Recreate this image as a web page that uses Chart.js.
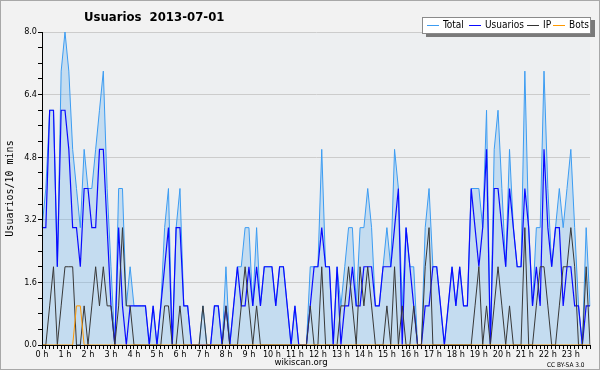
<!DOCTYPE html>
<html>
<head>
<meta charset="utf-8">
<script src="https://cdn.jsdelivr.net/npm/chart.js@4.4.1/dist/chart.umd.min.js"></script>
<style>
  html, body { margin:0; padding:0; background:#f2f2f2; }
  #wrap { position:relative; width:600px; height:370px; box-sizing:border-box; border:1px solid #a8a8a8; background:#f2f2f2; overflow:hidden; font-family:'DejaVu Sans Condensed','Liberation Sans',sans-serif; color:#000; }
  #c { position:absolute; left:-1px; top:-1px; }
  .txt { position:absolute; white-space:pre; line-height:1; }
  #title { left:83px; top:9px; font-size:13px; font-weight:bold; }
  #legend { position:absolute; left:421px; top:16px; width:167px; height:15px; background:#fff; border:1px solid #8a8a8a; box-shadow:4px 3px 0 #7a7a7a; }
  .lg-line { position:absolute; top:7px; width:12px; height:1px; }
  .lg-txt { position:absolute; top:2px; font-size:10px; white-space:pre; line-height:1; }
  #site { left:0; width:600px; text-align:center; top:356px; font-size:9.5px; }
  #cc { left:546px; top:361px; font-size:6.5px; }
</style>
</head>
<body>
<div id="wrap">
  <canvas id="c" width="600" height="370"></canvas>
  <div class="txt" id="title">Usuarios  2013-07-01</div>
  <div id="legend">
    <div class="lg-line" style="left:4px;background:#3c9cf2"></div><div class="lg-txt" style="left:20px">Total</div>
    <div class="lg-line" style="left:46px;background:#0a0aff"></div><div class="lg-txt" style="left:62px">Usuarios</div>
    <div class="lg-line" style="left:104px;background:#333"></div><div class="lg-txt" style="left:120px">IP</div>
    <div class="lg-line" style="left:130px;background:#ff9900"></div><div class="lg-txt" style="left:146px">Bots</div>
  </div>
  <div class="txt" id="site">wikiscan.org</div>
  <div class="txt" id="cc">CC BY-SA 3.0</div>
</div>
<script>
// tick labels (one per hour)
const hourLabels = ['0 h','1 h','2 h','3 h','4 h','5 h','6 h','7 h','8 h','9 h','10 h','11 h',
  '12 h','13 h','14 h','15 h','16 h','17 h','18 h','19 h','20 h','21 h','22 h','23 h'];

// series: users per 10 minutes (144 slots, 00:00 .. 23:50)
const totalValues = [
  3,4,6,6,2,7,8,7,5,4,3,5,4,4,5,6,7,4,
  2,0,4,4,1,2,1,1,1,1,0,1,0,1,3,4,0,3,
  4,1,1,0,0,0,1,0,0,1,1,0,2,0,1,2,2,3,
  3,1,3,1,2,2,2,1,2,2,1,0,1,0,0,0,2,2,
  2,5,2,2,0,2,1,2,3,3,1,3,3,4,3,1,1,
  2,3,2,5,4,1,3,2,2,0,0,3,4,2,2,1,0,1,
  2,1,2,1,1,4,4,4,3,6,0,5,6,4,2,5,3,2,
  2,7,3,1,3,3,7,4,2,3,4,3,4,5,3,1,0,3,1
];
const usuariosValues = [
  3,3,6,6,2,6,6,5,3,3,2,4,4,3,3,5,5,3,
  1,0,3,1,0,1,1,1,1,1,0,1,0,1,2,3,0,3,
  3,1,1,0,0,0,0,0,0,1,1,0,1,0,1,2,1,1,
  2,1,2,1,2,2,2,1,2,2,1,0,1,0,0,0,1,2,
  2,3,2,2,0,2,0,1,1,2,1,1,2,2,2,1,1,
  2,2,2,3,4,0,3,2,1,0,0,1,1,2,2,1,0,1,
  2,1,2,1,1,4,3,2,3,5,0,4,4,3,2,4,3,2,
  2,4,3,1,2,1,5,3,2,3,3,1,2,2,1,1,0,1,1
];
const ipValues = [
  0,0,1,2,0,1,2,2,2,0,0,1,0,1,2,1,2,1,
  1,0,1,3,1,1,0,0,0,0,0,0,0,0,1,1,0,0,
  1,0,0,0,0,0,1,0,0,0,0,0,1,0,0,0,1,2,
  1,0,1,0,0,0,0,0,0,0,0,0,0,0,0,0,1,0,
  0,2,0,0,0,0,1,1,2,1,0,2,1,2,1,0,0,
  0,1,0,2,0,1,0,0,1,0,0,2,3,0,0,0,0,0,
  0,0,0,0,0,0,1,2,0,1,0,1,2,1,0,1,0,0,
  0,3,0,0,1,2,2,1,0,0,1,2,2,3,2,0,0,2,0
];
const botsValues = [
  0,0,0,0,0,0,0,0,0,1,1,0,0,0,0,0,0,0,
  0,0,0,0,0,0,0,0,0,0,0,0,0,0,0,0,0,0,
  0,0,0,0,0,0,0,0,0,0,0,0,0,0,0,0,0,0,
  0,0,0,0,0,0,0,0,0,0,0,0,0,0,0,0,0,0,
  0,0,0,0,0,0,0,0,0,0,0,0,0,0,0,0,0,
  0,0,0,0,0,0,0,0,0,0,0,0,0,0,0,0,0,0,
  0,0,0,0,0,0,0,0,0,0,0,0,0,0,0,0,0,0,
  0,0,0,0,0,0,0,0,0,0,0,0,0,0,0,0,0,0,0
];
const yTickValues = [0, 1.6, 3.2, 4.8, 6.4, 8.0];

// category slots: 6 per hour (10-minute steps)
const slots = [];
hourLabels.forEach(h => { slots.push(h); for (let k = 0; k < 5; k++) slots.push(''); });

const FONT = "'DejaVu Sans Condensed','Liberation Sans',sans-serif";
const isMajor = v => yTickValues.some(t => Math.abs(t - v) < 1e-6);

const plotBg = {
  id: 'plotBg',
  beforeDraw(chart) {
    const {ctx, chartArea: a} = chart;
    ctx.save();
    ctx.fillStyle = '#edeff1';
    ctx.fillRect(a.left, a.top, a.right - a.left, a.bottom - a.top);
    ctx.restore();
  }
};

new Chart(document.getElementById('c'), {
  type: 'line',
  data: {
    labels: slots,
    datasets: [
      { label: 'Total', data: totalValues, borderColor: '#3c9cf2', backgroundColor: 'rgba(110,180,240,0.32)', fill: 'origin', borderWidth: 1, order: 4 },
      { label: 'Usuarios', data: usuariosValues, borderColor: '#0a0aff', borderWidth: 1.2, fill: false, order: 3 },
      { label: 'IP', data: ipValues, borderColor: '#383838', borderWidth: 1, fill: false, order: 2 },
      { label: 'Bots', data: botsValues, borderColor: '#ff9900', borderWidth: 1, fill: false, order: 1 }
    ]
  },
  options: {
    responsive: false,
    animation: false,
    devicePixelRatio: 1,
    elements: { point: { radius: 0 }, line: { tension: 0 } },
    layout: { padding: { top: 32, right: 10, left: 0, bottom: 0 } },
    plugins: { legend: { display: false }, tooltip: { enabled: false }, title: { display: false } },
    scales: {
      x: {
        type: 'category',
        offset: false,
        grid: { drawOnChartArea: false, drawTicks: true, tickLength: 4, tickColor: '#000', color: '#000' },
        border: { color: '#000', z: 1 },
        ticks: { autoSkip: false, maxRotation: 0, minRotation: 0, padding: 0, color: '#000', font: { family: FONT, size: 9 } },
        afterFit(s) { s.height = 25; }
      },
      y: {
        min: 0, max: 8,
        ticks: {
          stepSize: 0.4, padding: 1, color: '#000', font: { family: FONT, size: 9 },
          callback: v => isMajor(v) ? v.toFixed(1) : ''
        },
        grid: {
          color: c => (c.tick && isMajor(c.tick.value) && c.tick.value > 0) ? '#cccccc' : 'rgba(0,0,0,0)',
          tickColor: '#000', tickLength: 4
        },
        border: { color: '#000', z: 1 },
        title: { display: true, text: 'Usuarios/10 mins', color: '#000', font: { family: "'DejaVu Sans Mono',monospace", size: 10 }, padding: { top: 4, bottom: 0 } },
        afterFit(s) { s.width = 42; }
      }
    }
  },
  plugins: [plotBg]
});
</script>
</body>
</html>
